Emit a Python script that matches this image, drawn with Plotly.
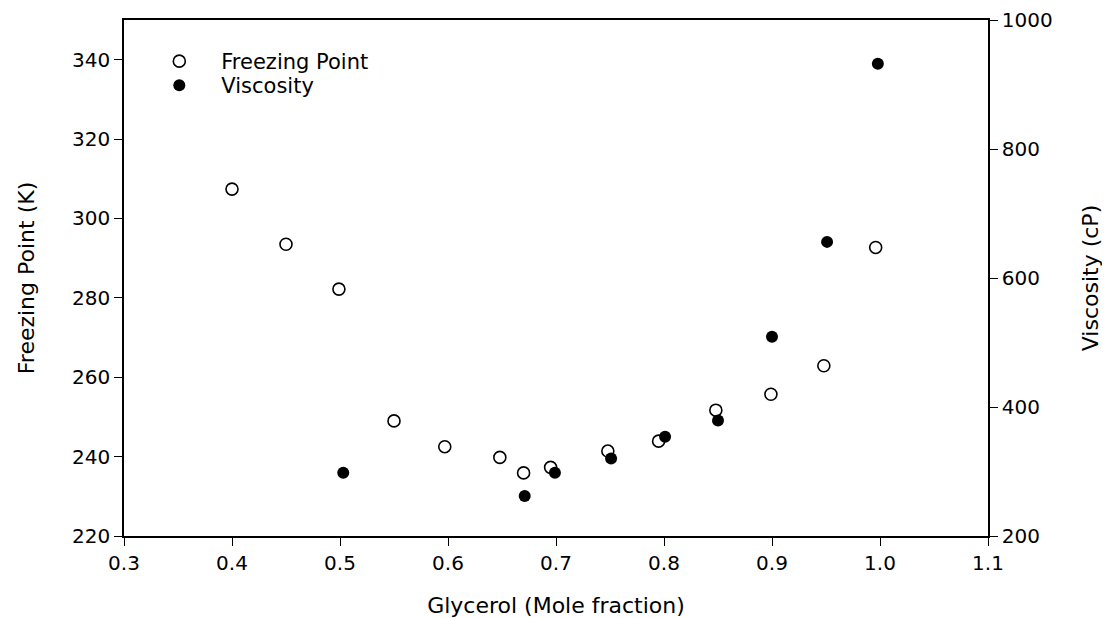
import plotly.graph_objects as go

# Freezing point data (open circles, left axis)
fp_x = [0.400, 0.450, 0.499, 0.550, 0.597, 0.648, 0.670, 0.695, 0.748, 0.795, 0.848, 0.899, 0.948, 0.996]
fp_y = [307.4, 293.5, 282.2, 249.0, 242.5, 239.8, 235.9, 237.3, 241.4, 243.9, 251.7, 255.7, 262.9, 292.7]

# Viscosity data (filled circles, right axis)
vis_x = [0.503, 0.671, 0.699, 0.751, 0.801, 0.850, 0.900, 0.951, 0.998]
vis_y = [298, 262, 298, 320, 354, 379, 509, 656, 932]

x_ticks = [0.3, 0.4, 0.5, 0.6, 0.7, 0.8, 0.9, 1.0, 1.1]
x_tick_labels = ["0.3", "0.4", "0.5", "0.6", "0.7", "0.8", "0.9", "1.0", "1.1"]
left_ticks = [220, 240, 260, 280, 300, 320, 340]
right_ticks = [200, 400, 600, 800, 1000]

FONT = "DejaVu Sans, Liberation Sans, Arial, sans-serif"
FS_TICK = 20
FS_TITLE = 22
FS_LEG = 21

fig = go.Figure()
fig.add_trace(go.Scatter(
    x=fp_x, y=fp_y, mode="markers", name="Freezing Point",
    marker=dict(symbol="circle-open", size=12, color="black", line=dict(width=1.6, color="black")),
    yaxis="y", legend="legend",
))
fig.add_trace(go.Scatter(
    x=vis_x, y=vis_y, mode="markers", name="Viscosity",
    marker=dict(symbol="circle", size=12, color="black", line=dict(width=0)),
    yaxis="y2", legend="legend2",
))

axis_common = dict(
    showgrid=False, zeroline=False, showline=True, linecolor="black", linewidth=1.5,
    ticks="outside", ticklen=8, tickwidth=1.2, tickcolor="black", automargin=False,
    tickfont=dict(family=FONT, size=FS_TICK, color="black"),
)

legend_common = dict(
    xanchor="left", yanchor="top",
    bgcolor="rgba(0,0,0,0)", borderwidth=0,
    font=dict(family=FONT, size=FS_LEG, color="black"),
    itemsizing="trace", itemwidth=74,
)

fig.update_layout(
    width=1102, height=610,
    margin=dict(l=116, r=122, t=12, b=82),
    paper_bgcolor="white", plot_bgcolor="white",
    font=dict(family=FONT, size=FS_TICK, color="black"),
    showlegend=True,
    legend=dict(x=0.0154, y=0.9593, **legend_common),
    legend2=dict(x=0.0154, y=0.9128, **legend_common),
    xaxis=dict(
        range=[0.3, 1.1], tickvals=x_ticks, ticktext=x_tick_labels, mirror=True,
        title=dict(text="Glycerol (Mole fraction)", font=dict(family=FONT, size=FS_TITLE), standoff=24),
        **axis_common,
    ),
    yaxis=dict(
        range=[220, 350], tickvals=left_ticks,
        title=dict(text="Freezing Point (K)", font=dict(family=FONT, size=FS_TITLE), standoff=31),
        **axis_common,
    ),
    yaxis2=dict(
        range=[200, 1000], tickvals=right_ticks, overlaying="y", side="right",
        title=dict(text="Viscosity (cP)", font=dict(family=FONT, size=FS_TITLE), standoff=31),
        **axis_common,
    ),
)

fig.write_html("out.html")
